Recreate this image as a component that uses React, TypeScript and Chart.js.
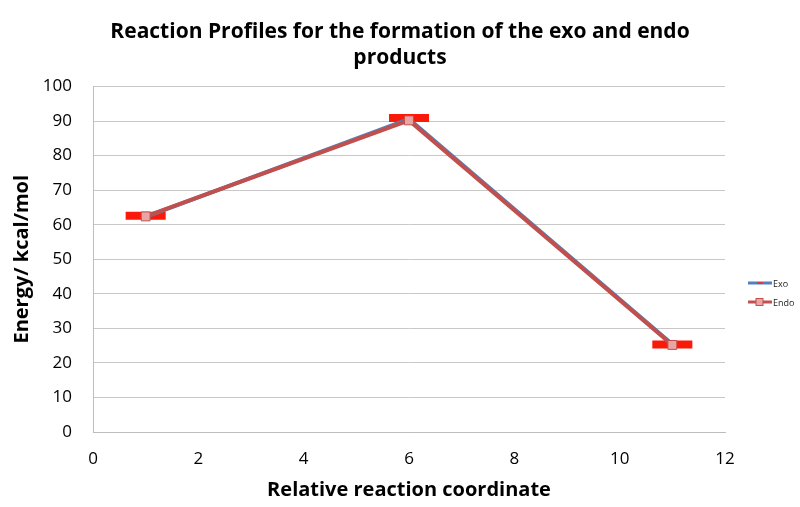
import React, { useEffect, useRef } from "react";
import { Chart, registerables } from "chart.js";

Chart.register(...registerables);

const coordinate = [1, 6, 11];
const exoEnergy = [62.3, 90.6, 25.4];
const endoEnergy = [62.4, 90.2, 25.2];
const levelStart = [0.62, 5.62, 10.62];
const levelEnd = [1.38, 6.38, 11.38];
const levelEnergy = [62.6, 90.9, 25.3];
const yTicks = [0, 10, 20, 30, 40, 50, 60, 70, 80, 90, 100];
const xTicks = [0, 2, 4, 6, 8, 10, 12];
const titleLines = ["Reaction Profiles for the formation of the exo and endo", "products"];
const legendNames = ["Exo", "Endo"];

const FONT = "'Open Sans', Lato, sans-serif";

const legendPlugin = {
  id: "sideLegend",
  afterDraw(chart: any) {
    const ctx = chart.ctx;
    ctx.save();
    const items = [
      { name: legendNames[0], color: "#4f81bd", marker: false },
      { name: legendNames[1], color: "#c0504d", marker: true },
    ];
    items.forEach((it, i) => {
      const y = 283 + i * 19;
      const x0 = 748;
      ctx.strokeStyle = it.color;
      ctx.lineWidth = 3;
      ctx.beginPath();
      ctx.moveTo(x0, y);
      ctx.lineTo(x0 + 24, y);
      ctx.stroke();
      if (it.marker) {
        ctx.fillStyle = "#e9a5a3";
        ctx.strokeStyle = "#c0504d";
        ctx.lineWidth = 1;
        ctx.fillRect(x0 + 8, y - 3.5, 7, 7);
        ctx.strokeRect(x0 + 8, y - 3.5, 7, 7);
      } else {
        ctx.strokeStyle = "#d04040";
        ctx.lineWidth = 2;
        ctx.beginPath();
        ctx.moveTo(x0 + 9, y);
        ctx.lineTo(x0 + 15, y);
        ctx.stroke();
      }
      ctx.fillStyle = "#222";
      ctx.font = `9px ${FONT}`;
      ctx.textBaseline = "middle";
      ctx.textAlign = "left";
      ctx.fillText(it.name, x0 + 25, y + 1);
    });
    ctx.restore();
  },
};

export default function App() {
  const ref = useRef<HTMLCanvasElement>(null);
  useEffect(() => {
    document.body.style.margin = "0";
    const levelSets = levelEnergy.map((e, i) => ({
      label: "level" + i,
      data: [
        { x: levelStart[i], y: e },
        { x: levelEnd[i], y: e },
      ],
      borderColor: "#fa1a0a",
      borderWidth: 8,
      borderCapStyle: "butt",
      pointRadius: 0,
      order: 5,
    }));
    const chart = new Chart(ref.current!, {
      type: "line",
      data: {
        datasets: [
          ...levelSets,
          {
            label: legendNames[0],
            data: coordinate.map((x, i) => ({ x, y: exoEnergy[i] })),
            borderColor: "#4f81bd",
            borderWidth: 4,
            pointRadius: 0,
            order: 2,
          },
          {
            label: legendNames[1],
            data: coordinate.map((x, i) => ({ x, y: endoEnergy[i] })),
            borderColor: "#c0504d",
            borderWidth: 4,
            pointStyle: "rect",
            pointRadius: 6.3,
            pointBackgroundColor: "#e9a5a3",
            pointBorderColor: "#c0504d",
            pointBorderWidth: 1,
            order: 1,
          },
        ] as any,
      },
      options: {
        animation: false,
        responsive: false,
        layout: { padding: { left: 0, right: 0, top: 19, bottom: 0 } },
        plugins: {
          legend: { display: false },
          tooltip: { enabled: false },
          title: {
            display: true,
            text: titleLines,
            color: "#000",
            font: { family: FONT, size: 21, weight: "bold", lineHeight: 1.25 },
            padding: { top: 0, bottom: 15 },
          },
        },
        scales: {
          x: {
            type: "linear",
            min: 0,
            max: 12,
            afterBuildTicks: (s: any) => {
              s.ticks = xTicks.map((v) => ({ value: v }));
            },
            afterFit: (s: any) => {
              s.height = 75;
            },
            grid: { display: false, drawTicks: false },
            border: { color: "#bdbdbd", width: 1 },
            ticks: {
              color: "#000",
              padding: 17,
              font: { family: FONT, size: 17 },
            },
            title: {
              display: true,
              text: "Relative reaction coordinate",
              color: "#000",
              font: { family: FONT, size: 20, weight: "bold" },
              padding: { top: 0, bottom: 5 },
            },
          },
          y: {
            min: 0,
            max: 100,
            afterBuildTicks: (s: any) => {
              s.ticks = yTicks.map((v) => ({ value: v }));
            },
            afterFit: (s: any) => {
              s.width = 93;
            },
            grid: { color: "#c8c8c8", lineWidth: 1, drawTicks: false },
            border: { color: "#bdbdbd", width: 1 },
            ticks: {
              color: "#000",
              padding: 21,
              font: { family: FONT, size: 17 },
            },
            title: {
              display: true,
              text: "Energy/ kcal/mol",
              color: "#000",
              font: { family: FONT, size: 20, weight: "bold" },
              padding: { top: 10, bottom: 0 },
            },
          },
          spacer: {
            type: "linear",
            position: "right",
            display: true,
            afterFit: (s: any) => {
              s.width = 75;
            },
            grid: { display: false, drawTicks: false },
            border: { display: false },
            ticks: { display: false },
          },
        },
      },
      plugins: [legendPlugin],
    });
    return () => chart.destroy();
  }, []);
  return <canvas ref={ref} width={800} height={507} style={{ display: "block" }} />;
}
